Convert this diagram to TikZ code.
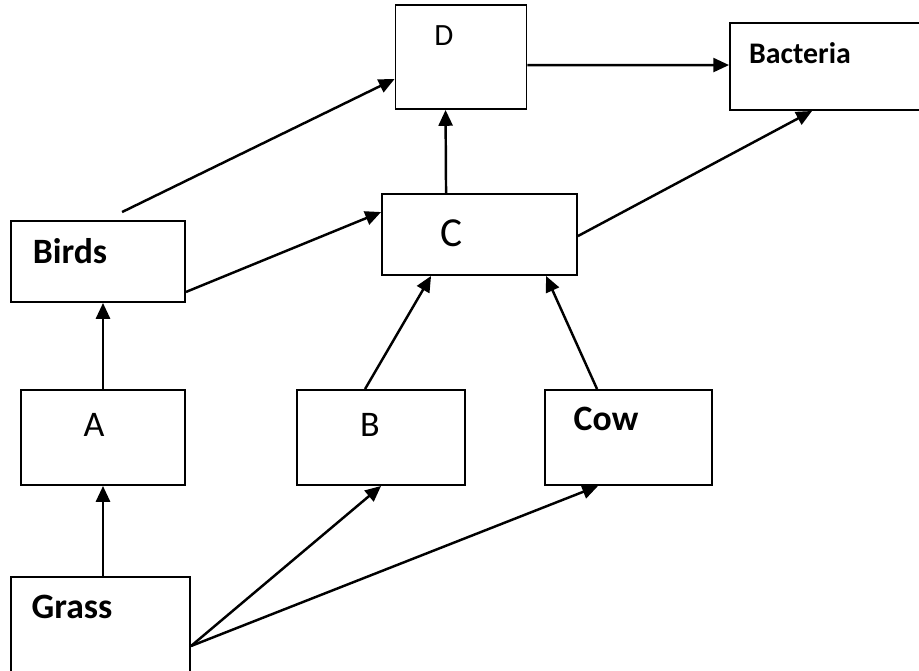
\documentclass[tikz,border=0pt]{standalone}
\usepackage{fontspec}
\setmainfont{Carlito}
\usetikzlibrary{arrows.meta, calc, positioning}

\begin{document}
\begin{tikzpicture}[x=0.02cm, y=-0.02cm,
    box/.style={draw, line width=1.1pt, inner sep=0pt},
    lbl/.style={inner sep=0pt, font=\fontsize{20.5}{24}\selectfont},
    boldlbl/.style={inner sep=0pt, font=\bfseries\fontsize{20.3}{24}\selectfont},
    arr/.style={line width=1.4pt, -{Triangle[length=9pt,width=8pt]}}]
  \useasboundingbox (0,0) rectangle (919,670);

  % boxes
  \node[box, minimum width=2.62cm, minimum height=2.08cm] (d) at (461,57) {};
  \node[box, minimum width=3.82cm, minimum height=1.74cm] (bac) at (825.5,66.5) {};
  \node[box, minimum width=3.9cm, minimum height=1.62cm] (c) at (479.5,234.5) {};
  \node[box, minimum width=3.48cm, minimum height=1.62cm] (birds) at (98,261.5) {};
  \node[box, minimum width=3.28cm, minimum height=1.9cm] (a) at (103,437.5) {};
  \node[box, minimum width=3.36cm, minimum height=1.9cm] (b) at (381,437.5) {};
  \node[box, minimum width=3.34cm, minimum height=1.9cm] (cow) at (628.5,437.5) {};
  \node[box, minimum width=3.58cm, minimum height=1.96cm] (grass) at (100.5,626) {};

  % texts
  \node[lbl, font=\fontsize{17.6}{21}\selectfont] (dtxt) at (444,36) {D};
  \node[boldlbl, font=\bfseries\fontsize{17}{20}\selectfont] (bactxt) at (800,53) {Bacteria};
  \node[lbl, font=\fontsize{23.5}{28}\selectfont] (ctxt) at (452,233) {C};
  \node[boldlbl] (birdstxt) at (70,251) {Birds};
  \node[lbl] (atxt) at (94,425) {A};
  \node[lbl] (btxt) at (370,425) {B};
  \node[boldlbl] (cowtxt) at (606,419) {Cow};
  \node[boldlbl] (grasstxt) at (72,607) {Grass};

  % connectors
  \coordinate (g) at ($(grass.north east)+(0,70)$);
  \coordinate (bd) at ($(birds.north west)+(112,-8)$);
  \draw[arr] (a.south |- grass.north) -- (a.south);
  \draw[arr] (a.north) -- (a.north |- birds.south);
  \draw[arr] (g) -- ($(b.south west)+(85,0)$);
  \draw[arr] (g) -- ($(cow.south west)+(54,0)$);
  \draw[arr] ($(b.north west)+(69,0)$) -- ($(c.south west)+(50,0)$);
  \draw[arr] ($(cow.north west)+(53,0)$) -- ($(c.south west)+(165,0)$);
  \draw[arr] ($(birds.south east)+(0,-11)$) -- ($(c.north west)+(0,19)$);
  \draw[arr] (bd) -- ($(d.north west)+(0,75)$);
  \draw[arr] ($(c.north west)+(65,0)$) -- ($(d.south west)+(51,0)$);
  \draw[arr] ($(d.north east)+(0,61)$) -- ($(bac.north west)+(0,43)$);
  \draw[arr] ($(c.north east)+(0,43)$) -- ($(bac.south west)+(83,0)$);
\end{tikzpicture}
\end{document}
